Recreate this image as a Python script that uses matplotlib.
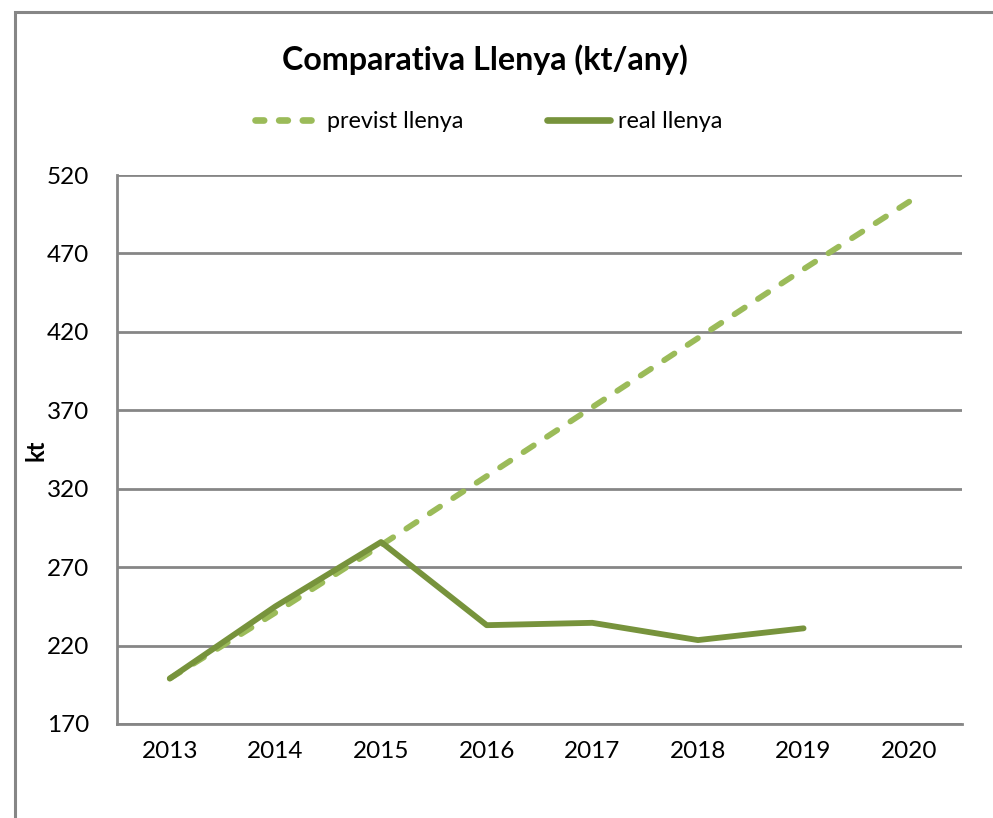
import numpy as np
import matplotlib.pyplot as plt
from matplotlib.patches import Rectangle

# data
years = ['2013', '2014', '2015', '2016', '2017', '2018', '2019', '2020']
previst = [199, 241, 284, 328, 372, 416, 460, 503]
real = [199, 245, 286, 233, 234.5, 223.5, 231]

col_previst = '#9BBB59'
col_real = '#77933C'
grid_col = '#868686'

plt.rcParams['font.family'] = ['Lato', 'DejaVu Sans']

W, H = 993, 818
fig = plt.figure(figsize=(W / 100, H / 100), dpi=100)
fig.patch.set_facecolor('white')

# outer chart border (only top and left visible in the crop)
fig.patches.append(Rectangle((15 / W, -0.05), 1.2, 1 - 12 / H + 0.05,
                             transform=fig.transFigure, fill=False,
                             edgecolor=grid_col, linewidth=2.2))

ax = fig.add_axes([117 / W, 1 - 724 / H, (962 - 117) / W, (724 - 175) / H])

x = np.arange(len(years))
ax.plot(x, previst, color=col_previst, linewidth=4.2, linestyle=(0, (2.1, 2.7)),
        dash_capstyle='round', solid_capstyle='round', label='previst llenya', zorder=3)
ax.plot(x[:len(real)], real, color=col_real, linewidth=4.2,
        solid_capstyle='round', solid_joinstyle='round', label='real llenya', zorder=4)

ax.set_xlim(-0.5, len(years) - 0.5)
ax.set_ylim(170, 520)
ax.set_yticks(np.arange(170, 521, 50))
ax.set_xticks(x)
ax.set_xticklabels(years)
ax.tick_params(length=0, labelsize=17.5, pad=12)
ax.tick_params(axis='y', pad=20)
ax.yaxis.grid(True, color=grid_col, linewidth=2)
ax.set_axisbelow(True)
for s in ['top', 'right']:
    ax.spines[s].set_visible(False)
for s in ['left', 'bottom']:
    ax.spines[s].set_color(grid_col)
    ax.spines[s].set_linewidth(2)

fig.text(36 / W, 1 - 450 / H, 'kt', fontsize=17, fontweight='bold',
         rotation=90, ha='center', va='center')

fig.text(485 / W, 1 - 60 / H, 'Comparativa Llenya (kt/any)', fontsize=23.2,
         fontweight='bold', ha='center', va='center')

leg = fig.legend(loc='center', bbox_to_anchor=(489 / W, 1 - 122 / H), ncol=2,
                 frameon=False, fontsize=16.8, handlelength=2.7, handletextpad=0.35,
                 columnspacing=3.6)
hs = leg.get_lines()
for h in hs:
    h.set_linewidth(4.8)
    h.set_solid_capstyle('round')
hs[0].set_linestyle((0, (1.3, 2.25)))
hs[0].set_dash_capstyle('round')

fig.savefig('out.png', dpi=100)
